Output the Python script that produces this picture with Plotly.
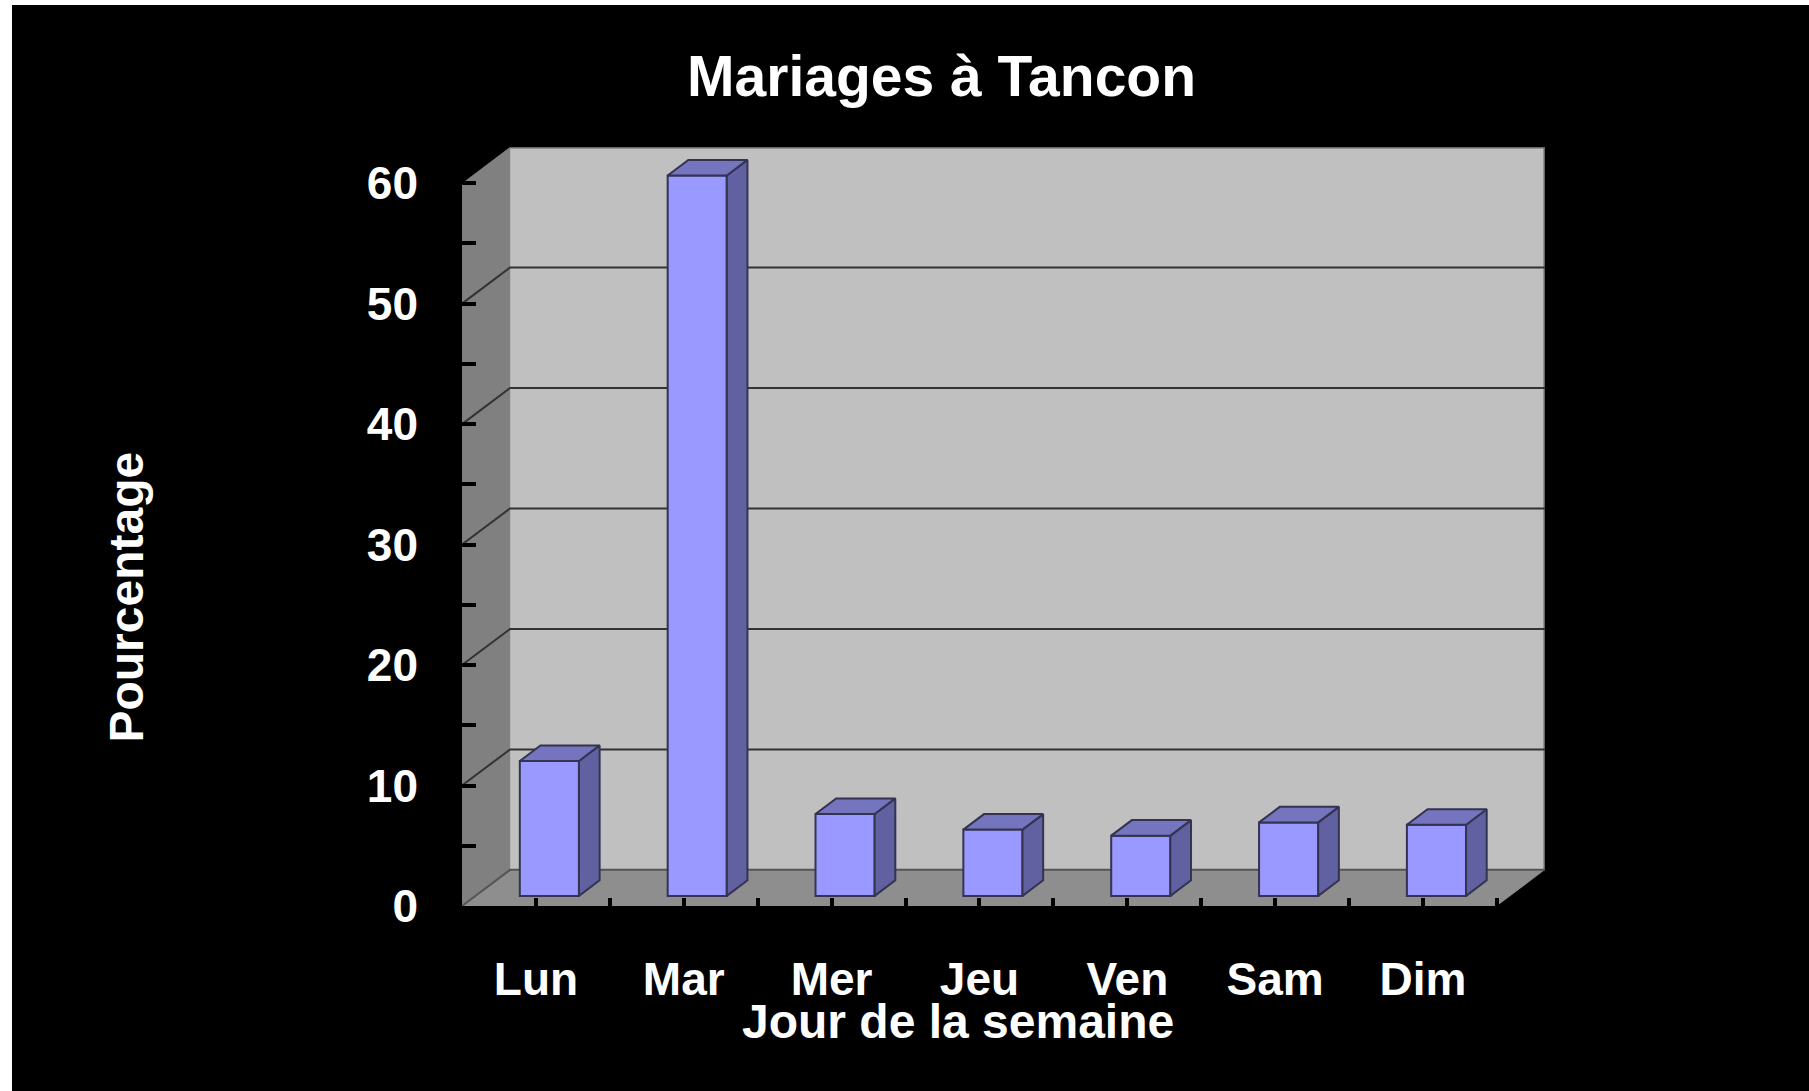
import plotly.graph_objects as go

# données
jours = ["Lun", "Mar", "Mer", "Jeu", "Ven", "Sam", "Dim"]
pourcentages = [11.2, 59.8, 6.8, 5.5, 5.0, 6.1, 5.9]
graduations = [0, 10, 20, 30, 40, 50, 60]
graduations_mineures = [5, 15, 25, 35, 45, 55]

TITRE = "Mariages à Tancon"
TITRE_X = "Jour de la semaine"
TITRE_Y = "Pourcentage"

# faux 3d : vecteur de profondeur en unités de données
DX, DY = 0.325, 3.0
F1, F2 = 0.28, 0.71      # avant / arrière des barres dans la profondeur
W = 0.4
YMAX = 60
X0, X1 = -0.5, len(jours) - 0.5

MUR = "#c0c0c0"
COTE = "#808080"
SOL = "#8e8e8e"
GRILLE = "#333333"
FACE = "#9999ff"
DESSUS = "#7575bf"
FLANC = "#6161a2"
BORD = "#333352"

FONT = "Liberation Sans, Arial, sans-serif"

FW, FH = 1809, 1091
ML, MR, MT, MB = 462, 264, 147, 185
PW, PH = FW - ML - MR, FH - MT - MB


def px_x(p):
    return (p - ML) / PW


def px_y(p):
    return (FH - MB - p) / PH


def chemin(xs, ys):
    pts = " L ".join(f"{x},{y}" for x, y in zip(xs, ys))
    return f"M {pts} Z"


shapes = []
# marge blanche en haut et à gauche
shapes.append(dict(type="rect", xref="paper", yref="paper", layer="below",
                   x0=px_x(0), x1=px_x(12), y0=px_y(FH), y1=px_y(0),
                   fillcolor="white", line=dict(width=0)))
shapes.append(dict(type="rect", xref="paper", yref="paper", layer="below",
                   x0=px_x(0), x1=px_x(FW), y0=px_y(5), y1=px_y(0),
                   fillcolor="white", line=dict(width=0)))
# mur du fond
shapes.append(dict(type="path", xref="x", yref="y", layer="below",
                   path=chemin([X0 + DX, X1 + DX, X1 + DX, X0 + DX], [DY, DY, YMAX + DY, YMAX + DY]),
                   fillcolor=MUR, line=dict(width=0)))
# mur de gauche
shapes.append(dict(type="path", xref="x", yref="y", layer="below",
                   path=chemin([X0, X0 + DX, X0 + DX, X0], [0, DY, YMAX + DY, YMAX]),
                   fillcolor=COTE, line=dict(width=0)))
# sol
shapes.append(dict(type="path", xref="x", yref="y", layer="below",
                   path=chemin([X0, X1, X1 + DX, X0 + DX], [0, 0, DY, DY]),
                   fillcolor=SOL, line=dict(width=0)))
# bord haut / droit du mur
shapes.append(dict(type="path", xref="x", yref="y", layer="below",
                   path=f"M {X0 + DX},{YMAX + DY} L {X1 + DX},{YMAX + DY} L {X1 + DX},{DY}",
                   line=dict(color="#666666", width=3)))
# quadrillage
for v in graduations[:-1]:
    shapes.append(dict(type="path", xref="x", yref="y", layer="below",
                       path=f"M {X0},{v} L {X0 + DX},{v + DY} L {X1 + DX},{v + DY}",
                       line=dict(color=GRILLE if v else "#555555", width=2)))

fig = go.Figure()

# face avant des barres
fig.add_trace(go.Bar(
    x=[i + F1 * DX for i in range(len(jours))], y=pourcentages, base=F1 * DY, width=W,
    marker=dict(color=FACE, line=dict(color=BORD, width=2)),
    hoverinfo="skip", showlegend=False))

# flancs et dessus
ddx, ddy = (F2 - F1) * DX, (F2 - F1) * DY
fx, fy, tx, ty = [], [], [], []
for i, v in enumerate(pourcentages):
    xl = i + F1 * DX - W / 2
    xr = i + F1 * DX + W / 2
    b = F1 * DY
    fx += [xr, xr + ddx, xr + ddx, xr, xr, None]
    fy += [b, b + ddy, b + ddy + v, b + v, b, None]
    tx += [xl, xr, xr + ddx, xl + ddx, xl, None]
    ty += [b + v, b + v, b + v + ddy, b + v + ddy, b + v, None]

fig.add_trace(go.Scatter(x=fx, y=fy, mode="lines", fill="toself", fillcolor=FLANC,
                         line=dict(color=BORD, width=2), hoverinfo="skip", showlegend=False))
fig.add_trace(go.Scatter(x=tx, y=ty, mode="lines", fill="toself", fillcolor=DESSUS,
                         line=dict(color=BORD, width=2), hoverinfo="skip", showlegend=False))

tick_style = dict(ticks="inside", tickcolor="black", tickwidth=4)

fig.update_layout(
    width=FW, height=FH,
    margin=dict(l=ML, r=MR, t=MT, b=MB),
    paper_bgcolor="black", plot_bgcolor="black",
    font=dict(family=FONT, color="white"),
    showlegend=False,
    shapes=shapes,
    title=dict(text=TITRE, x=941.5 / FW, xanchor="center",
               y=1 - 76 / FH, yanchor="middle",
               font=dict(size=57, weight="bold", color="white")),
    xaxis=dict(range=[X0, X1 + DX], showgrid=False, zeroline=False, showline=False,
               tickmode="array", tickvals=list(range(len(jours))), ticktext=jours,
               ticklen=8, **tick_style,
               minor=dict(tickmode="array", tickvals=[i - 0.5 for i in range(len(jours) + 1)],
                          ticklen=8, **tick_style),
               tickfont=dict(size=46, weight="bold", color="white"),
               ticklabelstandoff=42, fixedrange=True),
    yaxis=dict(range=[0, YMAX + DY], showgrid=False, zeroline=False, showline=False,
               tickmode="array", tickvals=graduations,
               ticklen=14, **tick_style,
               minor=dict(tickmode="array", tickvals=graduations_mineures,
                          ticklen=14, **tick_style),
               tickfont=dict(size=46, weight="bold", color="white"),
               ticklabelstandoff=43, fixedrange=True),
    annotations=[
        dict(text=TITRE_Y, textangle=-90, xref="paper", yref="paper",
             x=px_x(127), y=px_y(597.6),
             xanchor="center", yanchor="middle", showarrow=False,
             font=dict(size=48, weight="bold", color="white")),
        dict(text=TITRE_X, xref="paper", yref="paper",
             x=px_x(957.6), y=px_y(1021),
             xanchor="center", yanchor="middle", showarrow=False,
             font=dict(size=48, weight="bold", color="white")),
    ],
)

# la page n'a pas de marge : la figure occupe toute la fenêtre
fig.write_html("out.html", config={"displayModeBar": False},
               post_script="document.body.style.margin = '0';")
